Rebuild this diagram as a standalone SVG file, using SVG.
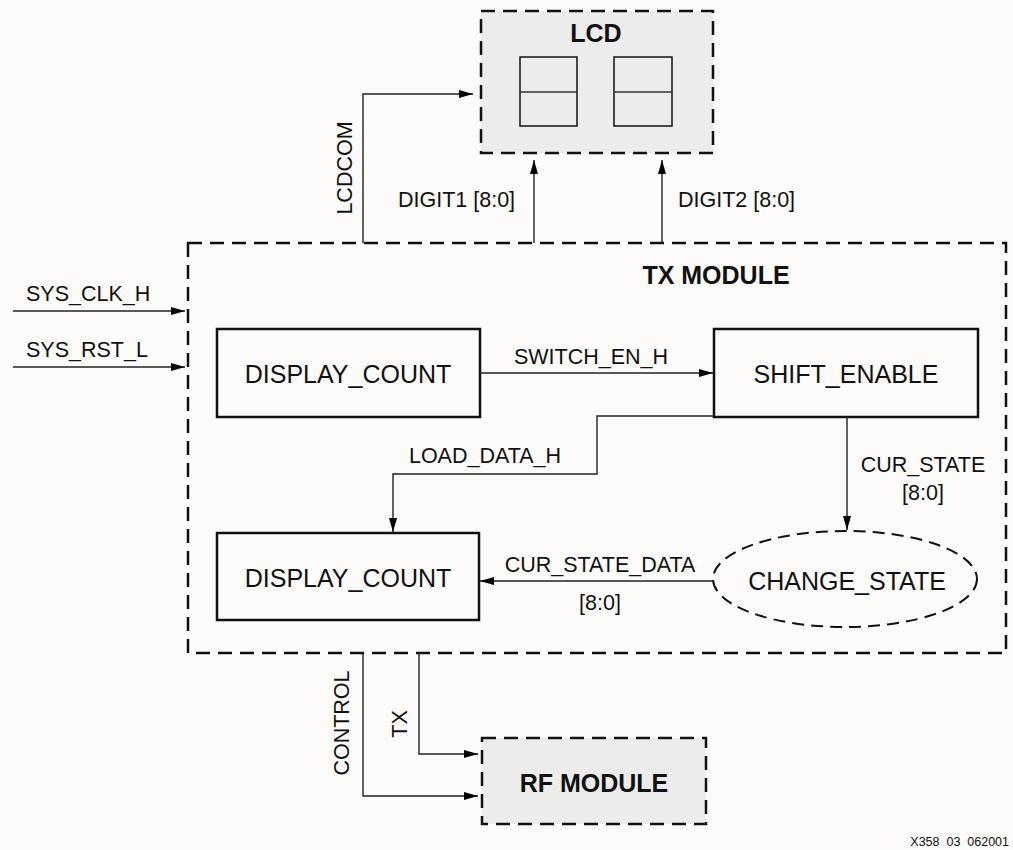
<svg xmlns="http://www.w3.org/2000/svg" width="1013" height="850" viewBox="0 0 1013 850">
<defs>
<marker id="ah" markerWidth="14" markerHeight="8" refX="14" refY="4" orient="auto" markerUnits="userSpaceOnUse">
<path d="M0,0 L14,4 L0,8 Z" fill="#000"/>
</marker>
<style>
.t{font-family:"Liberation Sans",Arial,sans-serif;fill:#111;}
.big{font-size:25px;}
.sig{font-size:21.5px;}
.bold{font-size:25px;font-weight:bold;}
.box{fill:none;stroke:#111;stroke-width:2.5;}
.dash{stroke:#111;stroke-width:2.5;stroke-dasharray:14 8;}
.wire{fill:none;stroke:#222;stroke-width:1.4;}
.arr{fill:none;stroke:#222;stroke-width:1.4;marker-end:url(#ah);}
</style>
</defs>
<rect width="1013" height="850" fill="#fcfbf9"/>

<g id="tx_module">
<rect x="188" y="243" width="818" height="410" fill="none" class="dash"/>
<text class="t bold" x="716" y="284" text-anchor="middle">TX MODULE</text>
</g>

<g id="lcd">
<rect x="481" y="11" width="232" height="142" fill="#ececec" class="dash"/>
<text class="t bold" x="596" y="42" text-anchor="middle">LCD</text>
<rect x="520" y="57" width="57" height="69" fill="none" stroke="#111" stroke-width="1.5"/>
<line x1="520" y1="92" x2="577" y2="92" stroke="#333" stroke-width="1.5"/>
<rect x="614" y="57" width="58" height="69" fill="none" stroke="#111" stroke-width="1.5"/>
<line x1="614" y1="92" x2="672" y2="92" stroke="#333" stroke-width="1.5"/>
</g>

<g id="rf_module">
<rect x="482" y="738" width="224" height="86" fill="#ececec" class="dash"/>
<text class="t bold" x="594" y="792" text-anchor="middle">RF MODULE</text>
</g>

<g id="display_count_1">
<rect x="217" y="329" width="263" height="88" class="box"/>
<text class="t big" x="348" y="383" text-anchor="middle">DISPLAY_COUNT</text>
</g>

<g id="shift_enable">
<rect x="714" y="329" width="264" height="88" class="box"/>
<text class="t big" x="846" y="383" text-anchor="middle">SHIFT_ENABLE</text>
</g>

<g id="display_count_2">
<rect x="217" y="533" width="262" height="87" class="box"/>
<text class="t big" x="348" y="587" text-anchor="middle">DISPLAY_COUNT</text>
</g>

<g id="change_state">
<ellipse cx="845" cy="579" rx="132" ry="48" fill="none" stroke="#111" stroke-width="2" stroke-dasharray="12 7"/>
<text class="t big" x="847" y="590" text-anchor="middle">CHANGE_STATE</text>
</g>

<g id="connectors">
<polyline class="arr" points="363,243 363,94 473,94"/>
<line class="arr" x1="534" y1="243" x2="534" y2="160"/>
<line class="arr" x1="662" y1="243" x2="662" y2="160"/>
<line class="arr" x1="13" y1="311" x2="185" y2="311"/>
<line class="arr" x1="13" y1="367" x2="185" y2="367"/>
<line class="arr" x1="480" y1="373" x2="713" y2="373"/>
<polyline class="arr" points="714,416 597,416 597,474 393,474 393,532"/>
<line class="arr" x1="847" y1="417" x2="847" y2="530"/>
<line class="arr" x1="713" y1="581" x2="480" y2="581"/>
<polyline class="arr" points="363,653 363,796 478,796"/>
<polyline class="arr" points="419,653 419,754 478,754"/>
</g>

<g id="labels">
<text class="t sig" x="352" y="168" text-anchor="middle" transform="rotate(-90 352 168)">LCDCOM</text>
<text class="t sig" x="398" y="207">DIGIT1 [8:0]</text>
<text class="t sig" x="678" y="207">DIGIT2 [8:0]</text>
<text class="t sig" x="26" y="301">SYS_CLK_H</text>
<text class="t sig" x="26" y="357">SYS_RST_L</text>
<text class="t sig" x="591" y="364" text-anchor="middle">SWITCH_EN_H</text>
<text class="t sig" x="485" y="463" text-anchor="middle">LOAD_DATA_H</text>
<text class="t sig" x="923" y="472" text-anchor="middle">CUR_STATE</text>
<text class="t sig" x="923" y="500" text-anchor="middle">[8:0]</text>
<text class="t sig" x="600" y="572" text-anchor="middle">CUR_STATE_DATA</text>
<text class="t sig" x="600" y="610" text-anchor="middle">[8:0]</text>
<text class="t sig" x="349" y="723" text-anchor="middle" transform="rotate(-90 349 723)">CONTROL</text>
<text class="t sig" x="407" y="724" text-anchor="middle" transform="rotate(-90 407 724)">TX</text>
<text class="t" x="1009" y="846" text-anchor="end" font-size="12.5" style="white-space:pre">X358  03  062001</text>
</g>
</svg>
